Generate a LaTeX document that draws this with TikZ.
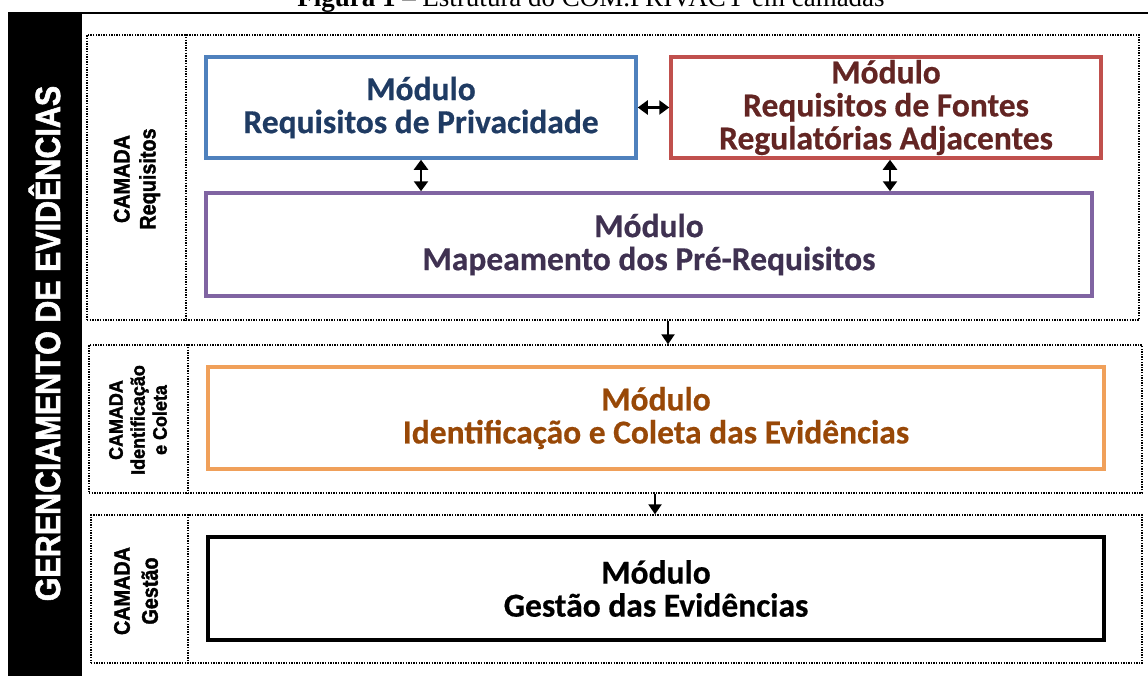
\documentclass[tikz,border=0pt]{standalone}
\usepackage{fontspec}
\setmainfont{Carlito}
\newfontfamily\modfont[FakeBold=0.5]{Carlito}
\newfontfamily\capfont{Liberation Serif}
\newfontfamily\labfont[FakeBold=1.8]{Liberation Sans}
\usetikzlibrary{arrows.meta}
\definecolor{bluebd}{HTML}{4F81BD}
\definecolor{bluetx}{HTML}{1F3B63}
\definecolor{redbd}{HTML}{C0504D}
\definecolor{redtx}{HTML}{632523}
\definecolor{purbd}{HTML}{8064A2}
\definecolor{purtx}{HTML}{3F3151}
\definecolor{orabd}{HTML}{F0A05A}
\definecolor{oratx}{HTML}{984807}
\begin{document}
\begin{tikzpicture}[x=1pt,y=-1pt,
  layerbox/.style={draw=black, line width=1.3pt, dash pattern=on 1.4pt off 1.2pt, inner sep=0pt},
  sepline/.style={draw=black, line width=1.3pt, dash pattern=on 1.4pt off 1.2pt},
  module/.style={draw, line width=3.5pt, inner sep=0pt, align=center,
    font=\modfont\bfseries\fontsize{33.5}{33}\selectfont},
  laytext/.style={rotate=90, align=center, text=black},
  dbl/.style={line width=2.4pt, {Triangle[length=10pt,width=14pt]}-{Triangle[length=10pt,width=14pt]}},
  down/.style={line width=2pt, -{Triangle[length=10pt,width=13pt]}}
]
\useasboundingbox (0,0) rectangle (1148,675);
\clip (0,0) rectangle (1148,675);

% caption (cut off at top, as in the reference)
\node[anchor=base, inner sep=0pt, font=\capfont\fontsize{27}{27}\selectfont] (cap) at (591,6)
  {\textbf{Figura 1} – Estrutura do COM.PRIVACY em camadas};
\draw[line width=2pt] (82,12.7) -- (1148,12.7);

% black side bar
\fill[black] (8,12) rectangle (82,676);
\node[laytext, anchor=base, inner sep=0pt, text=white,
  font=\labfont\bfseries\fontsize{35}{35}\selectfont] (side) at (60,343.5)
  {\scalebox{0.87}[1]{GERENCIAMENTO DE EVIDÊNCIAS}};

% layer boxes
\node[layerbox, minimum width=1052, minimum height=285] (L1) at (613,177.5) {};
\node[layerbox, minimum width=1053, minimum height=148] (L2) at (615.5,419) {};
\node[layerbox, minimum width=1051, minimum height=148] (L3) at (616.5,589) {};
\coordinate (s1) at (186,0);
\coordinate (s2) at (188,0);
\draw[sepline] (L1.north -| s1) -- (L1.south -| s1);
\draw[sepline] (L2.north -| s2) -- (L2.south -| s2);
\draw[sepline] (L3.north -| s2) -- (L3.south -| s2);

% layer labels
\node[laytext, font=\labfont\bfseries\fontsize{22.5}{26}\selectfont] (lab1) at (137,179)
  {\scalebox{0.88}[1]{CAMADA}\\\scalebox{0.88}[1]{Requisitos}};
\node[laytext, font=\labfont\bfseries\fontsize{19.5}{22}\selectfont] (lab2) at (138,420)
  {\scalebox{0.92}[1]{CAMADA}\\\scalebox{0.92}[1]{Identificação}\\\scalebox{0.92}[1]{e Coleta}};
\node[laytext, font=\labfont\bfseries\fontsize{22.5}{28}\selectfont] (lab3) at (136,591)
  {\scalebox{0.88}[1]{CAMADA}\\\scalebox{0.88}[1]{Gestão}};

% modules
\node[module, draw=bluebd, text=bluetx, minimum width=430, minimum height=101] (priv) at (421,107.5)
  {Módulo\\Requisitos de Privacidade};
\node[module, draw=redbd, text=redtx, minimum width=430, minimum height=101] (reg) at (886,107.5)
  {Módulo\\Requisitos de Fontes\\Regulatórias Adjacentes};
\node[module, draw=purbd, text=purtx, minimum width=886, minimum height=103] (map) at (649,244.5)
  {Módulo\\Mapeamento dos Pré-Requisitos};
\node[module, draw=orabd, text=oratx, minimum width=896, minimum height=102] (col) at (656,418)
  {Módulo\\Identificação e Coleta das Evidências};
\node[module, line width=4.5pt, draw=black, text=black, minimum width=896, minimum height=103] (ges) at (656,588.5)
  {Módulo\\Gestão das Evidências};

% connectors
\draw[dbl] (priv.east) -- (reg.west);
\coordinate (v2) at (890,0);
\draw[dbl] (priv.south) -- (priv.south |- map.north);
\draw[dbl] (reg.south -| v2) -- (map.north -| v2);
\coordinate (d1) at (668,0);
\coordinate (d2) at (655,0);
\draw[down] (L1.south -| d1) -- (L2.north -| d1);
\draw[down] (L2.south -| d2) -- (L3.north -| d2);
\end{tikzpicture}
\end{document}
